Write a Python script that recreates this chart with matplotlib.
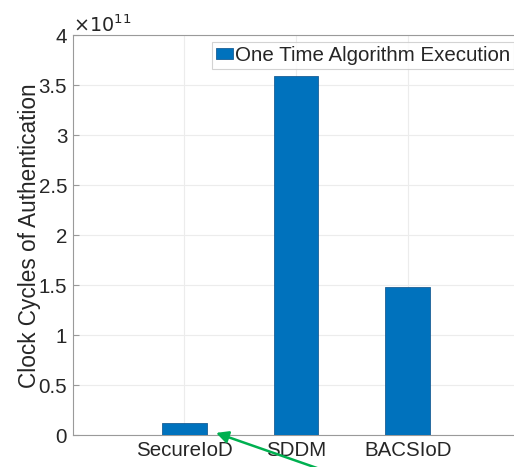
import matplotlib
matplotlib.use("Agg")
import matplotlib.pyplot as plt
from matplotlib.ticker import FuncFormatter

plt.rcParams['font.family'] = ['Liberation Sans', 'DejaVu Sans']

# clock cycles per scheme
schemes = ['SecureIoD', 'SDDM', 'BACSIoD']
cycles = [0.12e11, 3.59e11, 1.48e11]
series_name = 'One Time Algorithm Execution'
exponent = 11

bar_color = '#0072BD'
axis_color = '#9a9a9a'
text_color = '#262626'
fs = 14.8

fig = plt.figure(figsize=(5.14, 4.67), dpi=100)
ax = fig.add_axes([0.1414, 0.0675, 0.8693, 0.8565])

xs = [1, 2, 3]
ax.bar(xs, cycles, width=0.4, color=bar_color, edgecolor='#1a5f96',
       linewidth=0.6, label=series_name, zorder=3)

ax.set_xlim(0, 4)
ax.set_ylim(0, 4e11)
ax.set_xticks(xs)
ax.set_xticklabels(schemes)
ax.set_yticks([i * 0.5e11 for i in range(9)])
scale = 10.0 ** exponent
ax.yaxis.set_major_formatter(FuncFormatter(lambda v, p: '%g' % (v / scale)))
ax.text(0.0, 0.998, r'$\times10^{%d}$' % exponent, transform=ax.transAxes,
        fontsize=13.8, color=text_color, ha='left', va='bottom')

ax.grid(True, color='#ececec', linewidth=0.8, zorder=0)
ax.tick_params(direction='in', length=4, colors=axis_color,
               labelcolor=text_color, labelsize=fs, pad=4)
for sp in ax.spines.values():
    sp.set_color(axis_color)
    sp.set_linewidth(0.8)

ax.set_ylabel('Clock Cycles of Authentication', fontsize=16.3,
              color=text_color, labelpad=-1.5)

leg = ax.legend(loc='upper right', bbox_to_anchor=(0.997, 0.995),
                fontsize=fs, frameon=True, fancybox=False,
                handlelength=0.8, handleheight=0.5, handletextpad=0.1,
                borderpad=0.2, borderaxespad=0.2)
leg.get_frame().set_edgecolor('#c8c8c8')
leg.get_frame().set_linewidth(0.8)
for t in leg.get_texts():
    t.set_color(text_color)

# green pointer to the SecureIoD bar
ax.annotate('', xy=(1.26, 0.035e11), xytext=(2.25, -0.35e11),
            arrowprops=dict(arrowstyle='-|>', color='#00b050', lw=1.8,
                            mutation_scale=18),
            annotation_clip=False)

fig.savefig('out.png', dpi=100)
